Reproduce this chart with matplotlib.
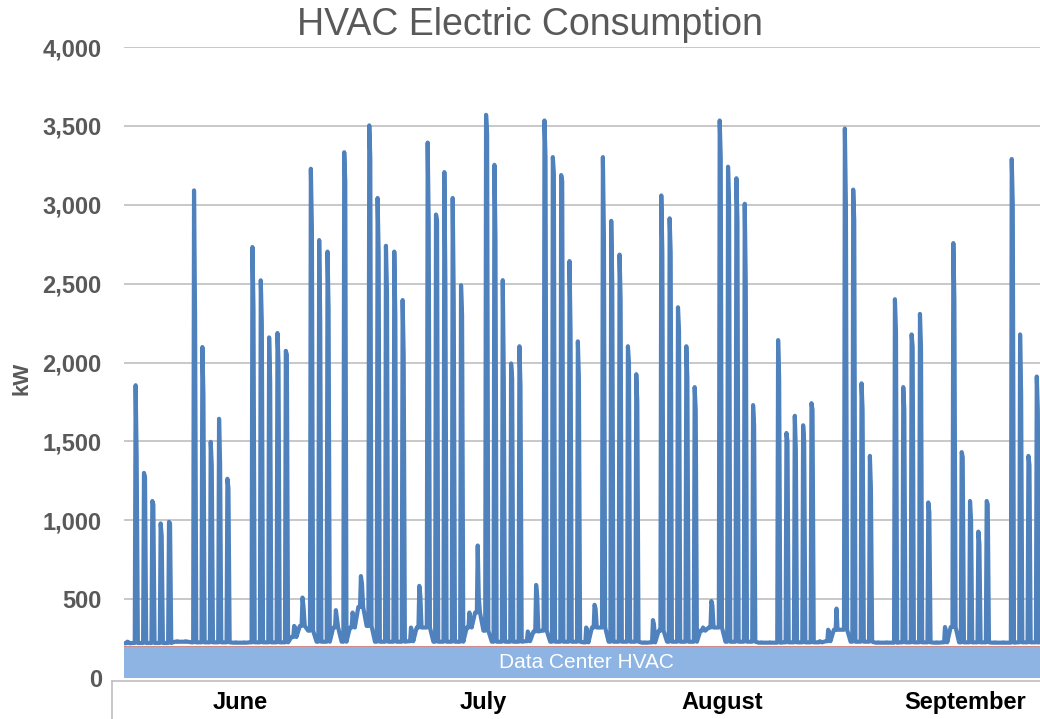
import numpy as np
import matplotlib
matplotlib.use("Agg")
import matplotlib.pyplot as plt
from matplotlib.lines import Line2D
import matplotlib.transforms as mtransforms

plt.rcParams['font.family'] = ['Liberation Sans', 'DejaVu Sans']

# daily HVAC load (kW): daily peak, afternoon shoulder, overnight base
# June 8 - June 30
peak_jun = [225, 230, 1856, 1300, 1122, 980, 990, 233, 233, 3091, 2098, 1497, 1643, 1263,
            226, 226, 2732, 2521, 2159, 2187, 2074, 330, 510]
shoulder_jun = [222, 228, 1400, 1275, 1100, 900, 980, 230, 230, 2300, 1800, 1350, 1360, 1202,
                224, 224, 2350, 2250, 1880, 2000, 2050, 320, 450]
base_jun = [220, 220, 222, 222, 222, 222, 222, 230, 230, 226, 226, 226, 226, 226,
            224, 224, 226, 226, 226, 226, 226, 260, 330]
# July 1 - July 31
peak_jul = [3228, 2776, 2703, 430, 3333, 415, 646, 3503, 3043, 2740, 2703, 2396, 320, 584,
            3394, 2938, 3207, 3043, 2490, 415, 840, 3570, 3253, 2522, 1994, 2103, 295, 590,
            3534, 3302, 3188]
shoulder_jul = [2860, 2250, 2340, 380, 3150, 380, 600, 3300, 2700, 2450, 2300, 2050, 300, 520,
                2890, 2900, 2500, 2400, 2300, 380, 512, 3450, 2800, 1900, 1900, 1850, 280, 520,
                3300, 3200, 3150]
base_jul = [300, 230, 230, 320, 230, 320, 450, 330, 230, 230, 230, 230, 233, 320,
            320, 230, 230, 230, 230, 320, 415, 300, 230, 230, 230, 230, 233, 295,
            300, 230, 230]
# August 1 - August 31
peak_aug = [2643, 2134, 320, 464, 3302, 2898, 2684, 2103, 1926, 226, 367, 3059, 2914, 2350,
            2103, 1844, 320, 488, 3534, 3241, 3168, 3006, 1730, 226, 226, 2142, 1553, 1662,
            1602, 1742, 233]
shoulder_aug = [2200, 1900, 300, 440, 2800, 2500, 2400, 2000, 1750, 224, 340, 2700, 2700, 2200,
                1900, 1700, 310, 460, 3300, 3000, 2900, 2500, 1600, 224, 224, 1900, 1500, 1450,
                1500, 1700, 230]
base_aug = [230, 230, 226, 320, 320, 230, 230, 230, 230, 224, 226, 300, 230, 230,
            230, 230, 300, 320, 320, 230, 230, 230, 230, 224, 224, 224, 226, 226,
            226, 226, 226]
# September 1 - September 26
peak_sep = [306, 440, 3483, 3096, 1868, 1408, 226, 226, 2401, 1844, 2178, 2308, 1113, 226,
            323, 2757, 1432, 1122, 928, 1122, 226, 226, 3290, 2178, 1408, 1911]
shoulder_sep = [290, 306, 3000, 2900, 1700, 1200, 224, 224, 2200, 1700, 2100, 2100, 1050, 224,
                300, 2400, 1400, 1000, 850, 1100, 224, 224, 3000, 1800, 1350, 1700]
base_sep = [233, 306, 306, 230, 230, 230, 224, 224, 224, 226, 226, 226, 226, 224,
            226, 323, 226, 226, 226, 226, 224, 224, 224, 226, 226, 226]

first_day = 7                  # June 8, counted in days since June 1
hours = [0, 5, 7.5, 10.5, 14]  # hour of day for base, base, peak, shoulder, base
dc_level = 200                 # data center HVAC band (kW)
months = ["June", "July", "August", "September"]

peak = peak_jun + peak_jul + peak_aug + peak_sep
shoulder = shoulder_jun + shoulder_jul + shoulder_aug + shoulder_sep
base = base_jun + base_jul + base_aug + base_sep

xs, ys = [], []
for i, (p, s, b) in enumerate(zip(peak, shoulder, base)):
    d = first_day + i
    for h, v in zip(hours, [b, b, p, s, b]):
        xs.append(d + h / 24)
        ys.append(v)

W, H = 1040, 719
fig = plt.figure(figsize=(W / 100, H / 100), dpi=100)
x0, x1, y0, y1 = 124, 1040, 47, 678
ax = fig.add_axes([x0 / W, 1 - y1 / H, (x1 - x0) / W, (y1 - y0) / H])

xlim = (7.92, 117.7)
ax.plot(xs, ys, color="#4F81BD", lw=3.0, zorder=2, solid_joinstyle="round")
ax.fill_between(xlim, 0, dc_level, color="#8DB4E2", zorder=3, lw=0)
ax.axhline(dc_level, color="#D08A88", lw=0.7, zorder=4)
trans = mtransforms.blended_transform_factory(ax.transAxes, ax.transData)
ax.text(0.505, dc_level / 2, "Data Center HVAC", transform=trans, color="white",
        fontsize=15, ha="center", va="center", zorder=5)

ax.set_xlim(*xlim)
ax.set_ylim(0, 4000)
ax.set_yticks(np.arange(0, 4001, 500))
ax.set_yticklabels([f"{v:,}" for v in range(0, 4001, 500)])
ax.tick_params(axis="y", length=0, pad=16, labelsize=17, labelcolor="#595959")
for lab in ax.get_yticklabels():
    lab.set_fontweight("bold")
ax.set_xticks([])
ax.yaxis.grid(True, color="#BFBFBF", lw=1.2, zorder=0)
ax.set_axisbelow(True)
for sp in ax.spines.values():
    sp.set_visible(False)

# month labels under the chart
tx = mtransforms.blended_transform_factory(ax.transData, fig.transFigure)
for m, pos in zip(months, [21.83, 50.95, 79.60, 108.73]):
    ax.text(pos, 1 - 709 / H, m, transform=tx, ha="center", va="baseline",
            fontsize=17, fontweight="bold", color="black", clip_on=False)

# category axis box lines
yb = 1 - 680.5 / H
fig.add_artist(Line2D([112 / W, 1], [yb, yb], transform=fig.transFigure, color="#BFBFBF", lw=1.2))
fig.add_artist(Line2D([112 / W, 112 / W], [0, yb], transform=fig.transFigure, color="#BFBFBF", lw=1.2))

fig.text(530 / W, 1 - 35 / H, "HVAC Electric Consumption", ha="center", va="baseline",
         fontsize=27, color="#595959")
fig.text(22 / W, 1 - 378 / H, "kW", rotation=90, ha="center", va="center",
         fontsize=16, fontweight="bold", color="#595959")

fig.savefig("out.png", dpi=100)
